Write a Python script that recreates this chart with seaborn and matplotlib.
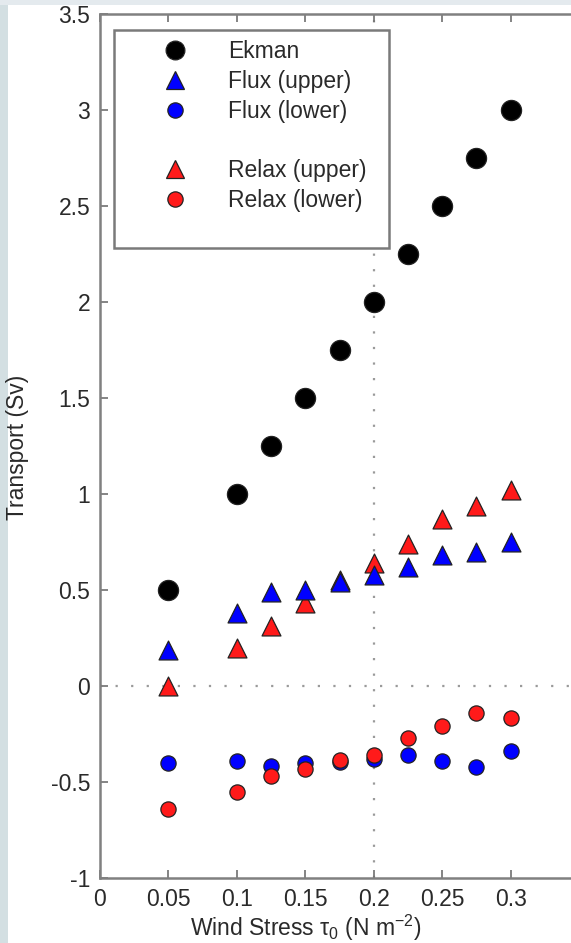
import pandas as pd
import matplotlib
matplotlib.use('Agg')
import matplotlib.pyplot as plt
from matplotlib.lines import Line2D
from matplotlib.patches import Rectangle
from matplotlib.ticker import FuncFormatter, MultipleLocator
import seaborn as sns

# wind stress (N m^-2) and transports (Sv)
tau = [0.05, 0.1, 0.125, 0.15, 0.175, 0.2, 0.225, 0.25, 0.275, 0.3]
ekman = [0.5, 1.0, 1.25, 1.5, 1.75, 2.0, 2.25, 2.5, 2.75, 3.0]
flux_upper = [0.19, 0.38, 0.49, 0.50, 0.54, 0.58, 0.62, 0.68, 0.70, 0.75]
flux_lower = [-0.40, -0.39, -0.415, -0.40, -0.395, -0.38, -0.36, -0.39, -0.42, -0.34]
relax_upper = [0.0, 0.20, 0.31, 0.43, 0.55, 0.64, 0.74, 0.87, 0.94, 1.02]
relax_lower = [-0.64, -0.55, -0.47, -0.43, -0.385, -0.36, -0.27, -0.21, -0.14, -0.165]

x_ticks = [0, 0.05, 0.1, 0.15, 0.2, 0.25, 0.3]

sns.set_theme(style='white')
plt.rcParams['font.family'] = ['Liberation Sans', 'DejaVu Sans']
plt.rcParams['axes.unicode_minus'] = False

fig = plt.figure(figsize=(5.71, 9.43), dpi=100)
fig.patch.set_facecolor('white')
# light strips at the edges of the screenshot
fig.patches.append(Rectangle((0, 0), 8 / 571, 1, transform=fig.transFigure,
                             facecolor='#d3dfe2', edgecolor='none', zorder=-5))
fig.patches.append(Rectangle((0, 1 - 5 / 943), 1, 5 / 943, transform=fig.transFigure,
                             facecolor='#e4eaee', edgecolor='none', zorder=-5))

ax = fig.add_axes([100 / 571, 65 / 943, 479 / 571, 864 / 943])
ax.set_facecolor('white')

ax.axvline(0.2, color='#9a9a9a', ls=(0, (1, 6)), lw=1.6, zorder=0)
ax.axhline(0, color='#9a9a9a', ls=(0, (1, 6)), lw=1.6, zorder=0)

series = [
    ('Ekman', ekman, 'black', 'o', 210),
    ('Relax (upper)', relax_upper, '#ff1a1a', '^', 185),
    ('Flux (upper)', flux_upper, '#0000ff', '^', 185),
    ('Flux (lower)', flux_lower, '#0000ff', 'o', 120),
    ('Relax (lower)', relax_lower, '#ff1a1a', 'o', 120),
]
for name, vals, col, mk, size in series:
    df = pd.DataFrame({'tau': tau, 'transport': vals})
    sns.scatterplot(data=df, x='tau', y='transport', ax=ax, color=col, marker=mk,
                    s=size, edgecolor='#222222', linewidth=0.9, zorder=2, legend=False)

ax.set_xlim(0, 0.35)
ax.set_ylim(-1, 3.5)
ax.set_xticks(x_ticks + [0.35])
ax.xaxis.set_major_formatter(FuncFormatter(lambda v, p: '%g' % v if v < 0.34 else ''))
ax.yaxis.set_major_locator(MultipleLocator(0.5))
ax.yaxis.set_major_formatter(FuncFormatter(lambda v, p: '%g' % v))

for sp in ax.spines.values():
    sp.set_color('#808080')
    sp.set_linewidth(1.8)
ax.tick_params(direction='in', length=6, width=1.2, color='#707070',
               bottom=True, left=True, top=True, right=True,
               labelsize=16.5, pad=7, labelcolor='#2a2a2a')

ax.set_xlabel(r'Wind Stress $\mathregular{\tau_0}$ (N m$\mathregular{^{-2}}$)',
              fontsize=16.5, color='#2a2a2a')
ax.xaxis.set_label_coords(0.43, -0.04)
ax.set_ylabel('Transport (Sv)', fontsize=16.5, color='#2a2a2a')
ax.yaxis.set_label_coords(-0.148, 0.498)

# legend box drawn by hand
ax.add_patch(Rectangle((14 / 479, 630 / 864), 275 / 479, 218 / 864, transform=ax.transAxes,
                       facecolor='white', edgecolor='#7a7a7a', lw=1.8, zorder=4))

def handle(col, mk, ms):
    return Line2D([], [], ls='none', marker=mk, markersize=ms, markerfacecolor=col,
                  markeredgecolor='#222222', markeredgewidth=0.9)

handles = [handle('black', 'o', 13.5), handle('#0000ff', '^', 12.5), handle('#0000ff', 'o', 11),
           Line2D([], [], ls='none'), handle('#ff1a1a', '^', 12.5), handle('#ff1a1a', 'o', 11)]
labels = ['Ekman', 'Flux (upper)', 'Flux (lower)', ' ', 'Relax (upper)', 'Relax (lower)']
leg = ax.legend(handles, labels, loc='upper left', bbox_to_anchor=(52 / 479, (878 - 40) / 864),
                frameon=False, borderpad=0, borderaxespad=0, handlelength=2.0,
                handletextpad=1.3, labelspacing=0.3, fontsize=16.5)
for t in leg.get_texts():
    t.set_color('#2a2a2a')
leg.set_zorder(5)

fig.savefig('out.png', dpi=100)
